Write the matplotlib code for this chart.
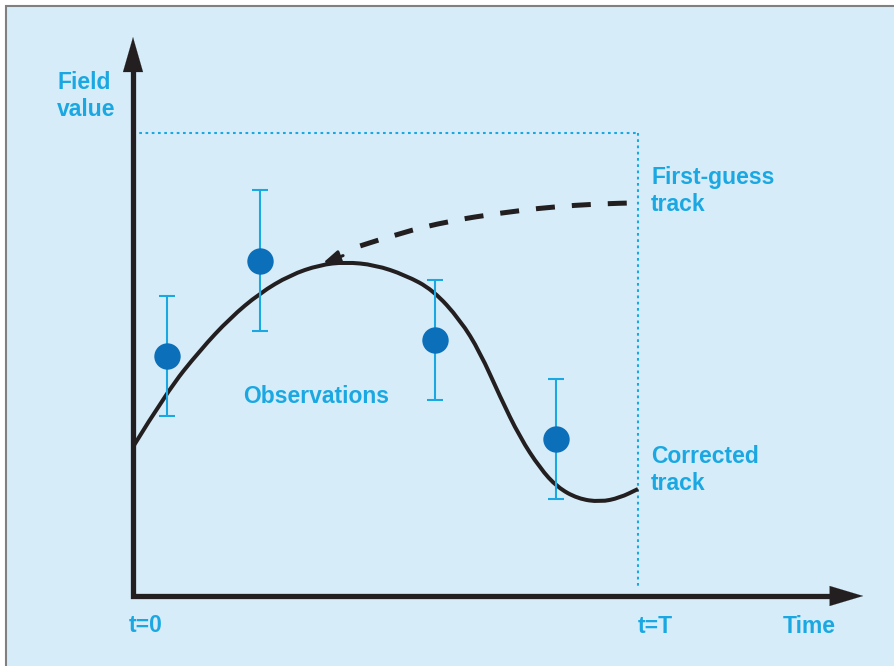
import matplotlib.pyplot as plt
from matplotlib.patches import Rectangle, PathPatch
from matplotlib.path import Path

# time runs 0..T (T = 10), field value in arbitrary units
T_END = 10.0

obs_t = [0.67, 2.51, 5.98, 8.38]
obs_v = [5.18, 7.24, 5.53, 3.39]
obs_err = [1.3, 1.52, 1.3, 1.3]

corrected_t = [0.0, 0.67, 1.33, 1.92, 2.51, 3.11, 3.70, 4.20, 4.79, 5.39, 5.94,
               6.48, 6.87, 7.27, 7.66, 8.06, 8.40, 8.81, 9.25, 9.64, 10.0]
corrected_v = [3.22, 4.41, 5.31, 6.00, 6.54, 6.93, 7.15, 7.21, 7.15, 6.93, 6.61,
               5.96, 5.27, 4.30, 3.43, 2.76, 2.35, 2.10, 2.03, 2.12, 2.31]

guess_t = [3.76, 4.50, 5.29, 6.28, 7.27, 8.26, 9.25, 10.0]
guess_v = [7.19, 7.56, 7.84, 8.10, 8.27, 8.40, 8.47, 8.49]

BG = '#d6edf9'
CYAN = '#1ba8e2'
DOT = '#0b6fba'
INK = '#231f20'

plt.rcParams['font.family'] = ['Liberation Sans', 'DejaVu Sans']


def smooth_path(xs, ys):
    # quadratic bezier through midpoints, the listed points act as control points
    pts = list(zip(xs, ys))
    verts = [pts[0]]
    codes = [Path.MOVETO]
    for i in range(1, len(pts) - 1):
        mid = ((pts[i][0] + pts[i + 1][0]) / 2, (pts[i][1] + pts[i + 1][1]) / 2)
        verts += [pts[i], mid]
        codes += [Path.CURVE3, Path.CURVE3]
    verts.append(pts[-1])
    codes.append(Path.LINETO)
    return Path(verts, codes)


fig = plt.figure(figsize=(8.94, 6.66), dpi=100, facecolor='white')
ax = fig.add_axes([0, 0, 1, 1])
ax.set_xlim(-2.634, 15.07)
ax.set_ylim(-1.512, 12.87)
ax.axis('off')

# panel background with thin grey frame
ax.add_patch(Rectangle((6 / 894, -0.05), 1.0, 660 / 666 + 0.05, transform=ax.transAxes,
                       facecolor=BG, edgecolor='#808080', lw=1.5, zorder=0))

# dotted box marking the top and t=T
ax.plot([0, T_END], [10, 10], ls=(0, (1.3, 1.7)), color=CYAN, lw=1.5, zorder=1)
ax.plot([T_END, T_END], [10, 0.17], ls=(0, (1.3, 1.7)), color=CYAN, lw=1.5, zorder=1)

# axes as black arrows
ax.plot([0, 0, 13.9], [11.4, 0, 0], color=INK, lw=3.8, solid_joinstyle='miter',
        solid_capstyle='projecting', zorder=3)
ax.annotate('', xy=(14.46, 0), xytext=(13.5, 0),
            arrowprops=dict(arrowstyle='-|>,head_length=1.2,head_width=0.36',
                            mutation_scale=20, color=INK, lw=0.1, shrinkA=0, shrinkB=0), zorder=3)
ax.annotate('', xy=(0, 12.07), xytext=(0, 11.0),
            arrowprops=dict(arrowstyle='-|>,head_length=1.25,head_width=0.36',
                            mutation_scale=20, color=INK, lw=0.1, shrinkA=0, shrinkB=0), zorder=3)

# corrected track (smooth)
ax.add_patch(PathPatch(smooth_path(corrected_t, corrected_v), facecolor='none',
                       edgecolor=INK, lw=2.9, capstyle='butt', zorder=4))

# first-guess track (dashed) with small arrowhead at its start
ax.add_patch(PathPatch(smooth_path(guess_t[1:], guess_v[1:]), facecolor='none',
                       edgecolor=INK, lw=3.6, linestyle=(0, (3.8, 3.4)),
                       capstyle='butt', zorder=4))
ax.annotate('', xy=(guess_t[0], guess_v[0]), xytext=(guess_t[0] + 0.4, guess_v[0] + 0.16),
            arrowprops=dict(arrowstyle='-|>,head_length=0.9,head_width=0.35',
                            mutation_scale=11, color=INK, lw=2.2, shrinkA=0, shrinkB=0), zorder=4)

# observations with error bars
ax.errorbar(obs_t, obs_v, yerr=obs_err, fmt='none', ecolor=CYAN, elinewidth=1.5,
            capsize=5.5, capthick=1.5, zorder=5)
ax.plot(obs_t, obs_v, 'o', color=DOT, markersize=19, markeredgewidth=0, zorder=6)

# labels
txt = dict(color=CYAN, fontsize=16.5, fontweight='bold', ha='left', va='center',
           linespacing=1.2, zorder=7)
ax.text(-1.505, 10.80, 'Field\nvalue', **txt)
ax.text(10.26, 8.75, 'First-guess\ntrack', **txt)
ax.text(10.26, 2.72, 'Corrected\ntrack', **txt)
ax.text(2.18, 4.30, 'Observations', **txt)
ax.text(-0.08, -0.63, 't=0', **txt)
ax.text(10.0, -0.65, 't=T', **txt)
ax.text(12.87, -0.65, 'Time', **txt)

fig.savefig('out.png', dpi=100, facecolor='white')
